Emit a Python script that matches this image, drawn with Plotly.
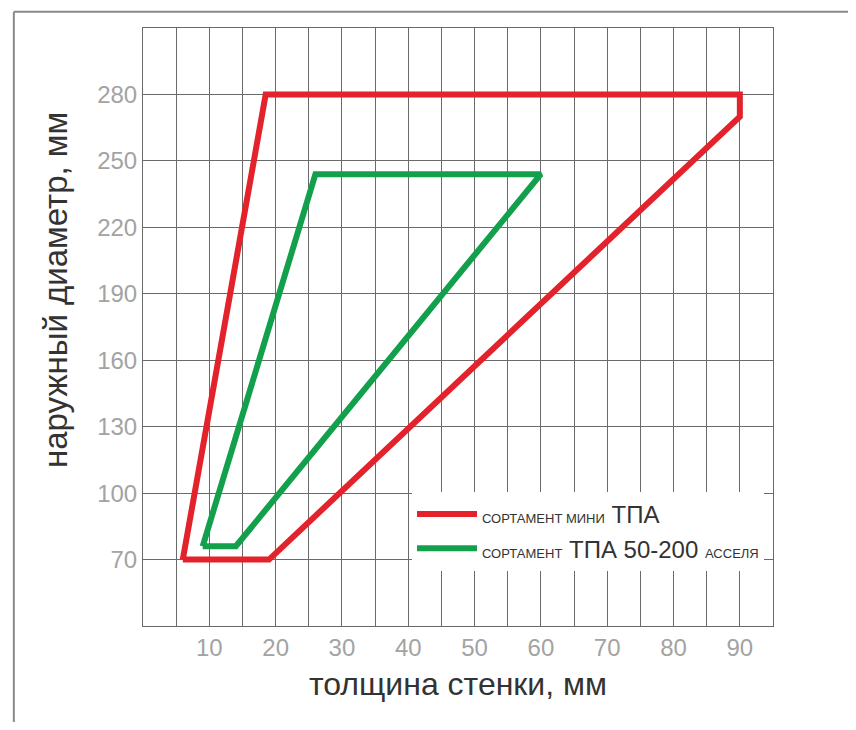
import plotly.graph_objects as go

# data
red_x = [6, 18.5, 90, 90, 19, 6]
red_y = [70, 280, 280, 270, 70, 70]
green_x = [9, 26, 60, 14, 9]
green_y = [76, 244, 244, 76, 76]
red_name = "<span style='font-size:13px'>СОРТАМЕНТ МИНИ</span> ТПА"
green_name = "<span style='font-size:13px'>СОРТАМЕНТ</span> ТПА 50-200 <span style='font-size:13px'>АССЕЛЯ</span>"
x_ticks = [10, 20, 30, 40, 50, 60, 70, 80, 90]
y_ticks = [70, 100, 130, 160, 190, 220, 250, 280]
x_title = "толщина стенки, мм"
y_title = "наружный диаметр, мм"

fig = go.Figure()
fig.add_trace(go.Scatter(x=red_x, y=red_y, mode="lines", name=red_name,
                         line=dict(color="#e3222b", width=6),
                         hoverinfo="skip"))
fig.add_trace(go.Scatter(x=green_x, y=green_y, mode="lines", name=green_name,
                         line=dict(color="#13a04c", width=6),
                         hoverinfo="skip"))

grid_col = "#6a6a6a"
frame_col = "#8a8a8a"
fig.update_layout(
    width=840, height=714,
    margin=dict(l=135, r=75, t=20, b=96),
    paper_bgcolor="white", plot_bgcolor="white",
    font=dict(family="Liberation Sans, Arial, sans-serif"),
    showlegend=True,
    legend=dict(x=0.427, y=1.0 - (492 - 28) / 598, xanchor="left", yanchor="top",
                bgcolor="white", borderwidth=0,
                font=dict(size=24, color="#333333"),
                tracegroupgap=0, itemwidth=60),
    xaxis=dict(range=[0, 95], tickvals=x_ticks, showgrid=True,
               gridcolor=grid_col, gridwidth=1,
               minor=dict(dtick=5, tick0=0, showgrid=True, gridcolor=grid_col, gridwidth=1),
               showline=True, linecolor=grid_col, mirror=True, linewidth=1,
               zeroline=False, ticks="", ticklen=0,
               tickfont=dict(size=24, color="#a3a3a3"),
               title=dict(text=x_title, font=dict(size=32, color="#333333"),
                          standoff=12)),
    yaxis=dict(range=[40, 310], tickvals=y_ticks, showgrid=True,
               gridcolor=grid_col, gridwidth=1,
               showline=True, linecolor=grid_col, mirror=True, linewidth=1,
               zeroline=False, ticks="", ticklen=0,
               tickfont=dict(size=24, color="#a3a3a3")),
    annotations=[dict(text=y_title, xref="paper", yref="paper",
                      x=(56 - 143) / 630, y=1.0 - (290 - 28) / 598,
                      xanchor="center", yanchor="middle", textangle=-90,
                      showarrow=False, font=dict(size=33, color="#333333"))],
    shapes=[dict(type="line", xref="paper", yref="paper",
                 x0=-0.205, x1=1.2, y0=1.027, y1=1.027,
                 line=dict(color=frame_col, width=2), layer="below"),
            dict(type="line", xref="paper", yref="paper",
                 x0=-0.205, x1=-0.205, y0=-0.2, y1=1.027,
                 line=dict(color=frame_col, width=2), layer="below")],
)

fig.write_html("out.html")
